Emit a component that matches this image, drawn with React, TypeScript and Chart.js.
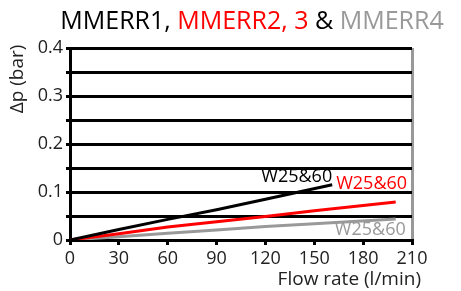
import React, { useEffect, useRef } from "react";
import { Chart, registerables } from "chart.js";

Chart.register(...registerables);

const blackX = [0, 30, 60, 90, 120, 161];
const blackY = [0, 0.022, 0.043, 0.063, 0.085, 0.115];
const redX = [0, 30, 60, 90, 120, 150, 200];
const redY = [0, 0.013, 0.027, 0.038, 0.049, 0.061, 0.079];
const grayX = [0, 30, 60, 90, 120, 150, 200];
const grayY = [0, 0.007, 0.014, 0.021, 0.028, 0.034, 0.044];

const titleParts = [
  { text: "MMERR1, ", color: "#000000" },
  { text: "MMERR2, 3", color: "#ff0000" },
  { text: " & ", color: "#000000" },
  { text: "MMERR4", color: "#999999" },
];
const seriesLabel = "W25&60";
const yTitle = "Δp (bar)";
const xTitle = "Flow rate (l/min)";

const FONT = "'Open Sans', 'Noto Sans', sans-serif";

const toPts = (xs: number[], ys: number[]) => xs.map((x, i) => ({ x, y: ys[i] }));

export default function App() {
  const ref = useRef<HTMLCanvasElement>(null);
  useEffect(() => {
    document.body.style.margin = "0";
    const textPlugin = {
      id: "texts",
      afterDraw(chart: any) {
        const ctx = chart.ctx;
        const xs = chart.scales.x;
        const ys = chart.scales.y;
        ctx.save();
        // title
        ctx.font = `25px ${FONT}`;
        ctx.textBaseline = "alphabetic";
        ctx.textAlign = "left";
        let total = 0;
        titleParts.forEach((p) => (total += ctx.measureText(p.text).width));
        let x = 252 - total / 2;
        titleParts.forEach((p) => {
          ctx.fillStyle = p.color;
          ctx.fillText(p.text, x, 29);
          x += ctx.measureText(p.text).width;
        });
        // y title
        ctx.font = `19px ${FONT}`;
        ctx.fillStyle = "#222";
        ctx.translate(18, 79);
        ctx.rotate(-Math.PI / 2);
        ctx.textAlign = "center";
        ctx.textBaseline = "middle";
        ctx.fillText(yTitle, 0, 0);
        ctx.setTransform(1, 0, 0, 1, 0, 0);
        // x title
        ctx.font = `19px ${FONT}`;
        ctx.textAlign = "right";
        ctx.textBaseline = "middle";
        ctx.fillStyle = "#222";
        ctx.fillText(xTitle, 421, 280);
        // series labels
        ctx.font = `18px ${FONT}`;
        const bEnd = blackX.length - 1;
        const bx = xs.getPixelForValue(blackX[bEnd]);
        const by = ys.getPixelForValue(blackY[bEnd]);
        ctx.fillStyle = "#000";
        ctx.textAlign = "right";
        ctx.fillText(seriesLabel, bx, by - 8);
        ctx.fillStyle = "#ff0000";
        ctx.textAlign = "left";
        ctx.fillText(seriesLabel, bx + 4, by - 1);
        const gEnd = grayX.length - 1;
        ctx.fillStyle = "#999999";
        ctx.textAlign = "right";
        ctx.fillText(seriesLabel, xs.getPixelForValue(grayX[gEnd]) + 10, ys.getPixelForValue(grayY[gEnd]) + 11);
        ctx.restore();
      },
    };
    const chart = new Chart(ref.current!, {
      type: "line",
      data: {
        datasets: [
          { data: toPts(blackX, blackY), borderColor: "#000000", borderWidth: 3, pointRadius: 0, tension: 0 },
          { data: toPts(redX, redY), borderColor: "#ff0000", borderWidth: 3, pointRadius: 0, tension: 0 },
          { data: toPts(grayX, grayY), borderColor: "#999999", borderWidth: 3, pointRadius: 0, tension: 0 },
        ],
      },
      options: {
        animation: false,
        responsive: false,
        devicePixelRatio: 1,
        layout: { padding: { left: 8, top: 48, right: 49, bottom: 0 } },
        plugins: { legend: { display: false }, tooltip: { enabled: false }, title: { display: false } },
        scales: {
          x: {
            type: "linear",
            min: 0,
            max: 210,
            afterFit: (s: any) => { s.height = 51; },
            ticks: { stepSize: 30, autoSkip: false, color: "#222", font: { family: FONT, size: 18 }, padding: 3, maxRotation: 0 },
            grid: {
              color: (c: any) => (c.tick && c.tick.value === 210 ? "#999999" : "rgba(0,0,0,0)"),
              tickColor: "#000",
              lineWidth: 3,
              tickLength: 5,
            },
            border: { display: true, color: "#000", width: 3 },
          },
          y: {
            min: 0,
            max: 0.4,
            afterFit: (s: any) => { s.width = 62; },
            ticks: {
              stepSize: 0.05,
              autoSkip: false,
              color: "#222",
              font: { family: FONT, size: 18 },
              padding: 3,
              callback: (v: any) => {
                const n = Math.round(Number(v) * 100);
                return n % 10 === 0 ? String(n / 100) : "";
              },
            },
            grid: { color: "#000", lineWidth: 3, tickLength: 4 },
            border: { display: true, color: "#000", width: 3 },
          },
        },
      },
      plugins: [textPlugin],
    } as any);
    return () => chart.destroy();
  }, []);
  return <canvas ref={ref} width={461} height={291} style={{ display: "block" }} />;
}
